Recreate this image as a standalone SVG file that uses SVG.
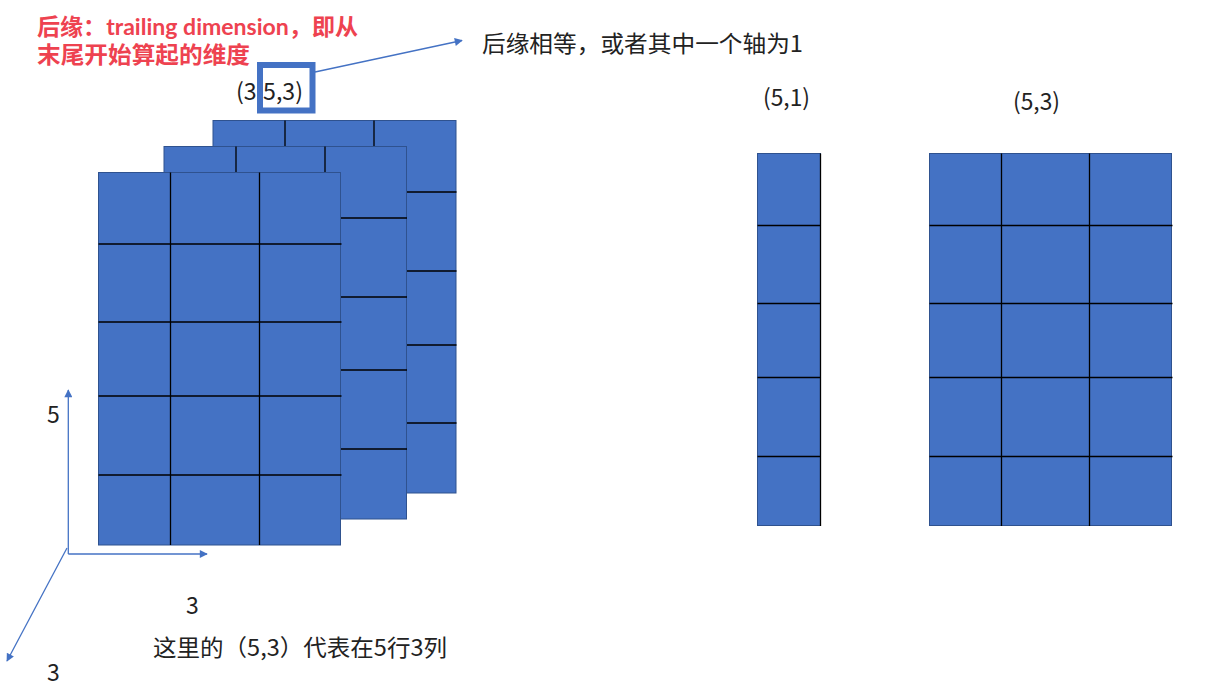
<svg xmlns="http://www.w3.org/2000/svg" width="1205" height="694" viewBox="0 0 1205 694">
<style>
.cell{fill:#4472C4;stroke:#2F528F;stroke-width:1}
.grid{stroke:#000;stroke-width:1.3;fill:none}
.conn{stroke:#4472C4;stroke-width:1.3;fill:none}
.t{font-family:"Noto Sans CJK SC","Noto Sans",sans-serif;font-size:23px;fill:#222}
.red{font-family:Lato,"Noto Sans CJK SC",sans-serif;font-size:23px;font-weight:bold;fill:#EE4250}
</style>
<defs>
<marker id="ah" viewBox="0 0 10 10" refX="9" refY="5" markerWidth="9" markerHeight="8" markerUnits="userSpaceOnUse" orient="auto">
<path d="M0,0 L10,5 L0,10 Z" fill="#4472C4"/>
</marker>
</defs>
<rect width="1205" height="694" fill="#fff"/>

<g id="layer-back">
<rect class="cell" x="213" y="120.5" width="243" height="372.5"/>
<path class="grid" d="M285,120.5V493 M374,120.5V493 M406,192H456.5 M406,271H456.5 M406,345H456.5 M406,423H456.5"/>
</g>
<g id="layer-middle">
<rect class="cell" x="164" y="146.5" width="242.5" height="372.5"/>
<path class="grid" d="M236,146.5V519 M325,146.5V519 M340,218H407 M340,297H407 M340,370H407 M340,449H407"/>
</g>
<g id="layer-front">
<rect class="cell" x="98.5" y="172.5" width="242" height="372.5"/>
<path class="grid" d="M170.5,172.5V545 M259.5,172.5V545 M98.5,244H341.5 M98.5,322H341.5 M98.5,396H341.5 M98.5,475H341.5"/>
</g>

<g id="matrix-5x1">
<rect class="cell" x="757.5" y="153.5" width="63" height="372"/>
<path class="grid" d="M820.5,153.5V526 M757.5,225.5H820.5 M757.5,303.5H820.5 M757.5,377.5H820.5 M757.5,456.5H820.5"/>
</g>
<g id="matrix-5x3">
<rect class="cell" x="929.5" y="153.5" width="242" height="372"/>
<path class="grid" d="M1001.5,153.5V526 M1089.5,153.5V526 M929.5,225.5H1172.5 M929.5,303.5H1172.5 M929.5,377.5H1172.5 M929.5,456.5H1172.5"/>
</g>

<g id="label-353">
<text class="t" x="236" y="100" textLength="67" lengthAdjust="spacingAndGlyphs">(3,5,3)</text>
<rect x="260" y="65" width="52.5" height="45.5" fill="none" stroke="#4472C4" stroke-width="6"/>
</g>
<g id="label-51"><text class="t" x="763" y="106" textLength="47" lengthAdjust="spacingAndGlyphs">(5,1)</text></g>
<g id="label-53"><text class="t" x="1013" y="110" textLength="47" lengthAdjust="spacingAndGlyphs">(5,3)</text></g>

<g id="note-trailing">
<text class="red" x="37" y="35" textLength="321" lengthAdjust="spacingAndGlyphs">后缘：trailing dimension，即从</text>
<text class="red" x="37" y="63" textLength="213" lengthAdjust="spacingAndGlyphs">末尾开始算起的维度</text>
</g>
<g id="note-rule"><text class="t" x="482" y="52" textLength="321" lengthAdjust="spacingAndGlyphs">后缘相等，或者其中一个轴为1</text></g>
<g id="note-rowcol"><text class="t" x="153" y="656" textLength="294" lengthAdjust="spacingAndGlyphs">这里的（5,3）代表在5行3列</text></g>

<g id="axis-labels">
<text class="t" x="47" y="423">5</text>
<text class="t" x="186" y="614">3</text>
<text class="t" x="47" y="681">3</text>
</g>

<g id="connectors">
<line class="conn" x1="315" y1="72" x2="462" y2="40.5" marker-end="url(#ah)"/>
<line class="conn" x1="68.3" y1="554" x2="68.3" y2="390" marker-end="url(#ah)"/>
<line class="conn" x1="68.3" y1="554" x2="207" y2="554" marker-end="url(#ah)"/>
<line class="conn" x1="67" y1="548" x2="7" y2="661" marker-end="url(#ah)"/>
</g>
</svg>
